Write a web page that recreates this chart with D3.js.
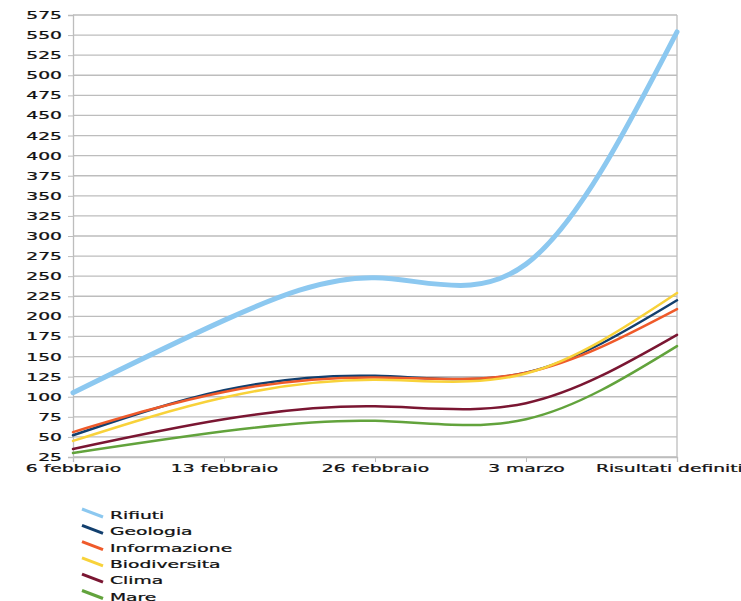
<!DOCTYPE html>
<html>
<head>
<meta charset="utf-8">
<script src="https://cdn.jsdelivr.net/npm/d3@7"></script>
<style>
  body { margin: 0; background: #fff; }
  text { font-family: "DejaVu Sans", sans-serif; fill: #111; stroke: #111; stroke-width: 0.25px; }
</style>
</head>
<body>
<svg id="chart" width="741" height="601"></svg>
<script>
const categories = ['6 febbraio', '13 febbraio', '26 febbraio', '3 marzo', 'Risultati definitivi'];
const seriesNames = ['Rifiuti', 'Geologia', 'Informazione', 'Biodiversita', 'Clima', 'Mare'];
const rifiuti = [105, 195, 248, 265, 554];
const geologia = [52, 108, 126, 130, 220];
const informazione = [56, 106, 124, 130, 209];
const biodiversita = [45, 99, 121, 129, 229];
const clima = [35, 72, 88, 92, 177];
const mare = [30, 57, 70, 72, 163];
const yTicks = d3.range(25, 576, 25);

const colors = ['#8cc8f0', '#123f6e', '#ef5a2a', '#f8d23a', '#7a1632', '#62a33c'];
const widths = [5, 2.5, 2.5, 2.5, 2.5, 2.5];
const allValues = [rifiuti, geologia, informazione, biodiversita, clima, mare];

const svg = d3.select('#chart');
const margin = { left: 73, top: 15, right: 64, bottom: 144 };
const w = 741 - margin.left - margin.right;
const h = 601 - margin.top - margin.bottom;
const stretch = 1.7; // the reference text is wide, so stretch it

const x = d3.scalePoint().domain(categories).range([0, w]);
const y = d3.scaleLinear().domain([25, 575]).range([h, 0]);

const g = svg.append('g').attr('transform', `translate(${margin.left},${margin.top})`);

// gridlines
g.append('g').selectAll('line')
  .data(yTicks)
  .enter().append('line')
  .attr('x1', 0).attr('x2', w)
  .attr('y1', d => y(d)).attr('y2', d => y(d))
  .attr('stroke', '#bdbdbd').attr('stroke-width', 1.3);

g.append('line')
  .attr('x1', w).attr('x2', w).attr('y1', 0).attr('y2', h)
  .attr('stroke', '#bdbdbd').attr('stroke-width', 1.3);

// y axis
const yAxis = g.append('g')
  .call(d3.axisLeft(y).tickValues(yTicks).tickSize(5).tickPadding(0));
yAxis.select('.domain').attr('stroke', '#bdbdbd').attr('stroke-width', 1.3);
yAxis.selectAll('line').attr('stroke', '#bdbdbd');
yAxis.selectAll('text')
  .attr('x', -6.5)
  .attr('transform', `scale(${stretch},1)`)
  .style('font-size', '11px')
  .style('font-family', '"DejaVu Sans", sans-serif')
  .attr('fill', '#111');

// x axis
const xAxis = g.append('g')
  .attr('transform', `translate(0,${h})`)
  .call(d3.axisBottom(x).tickSize(5).tickPadding(0));
xAxis.select('.domain').attr('stroke', '#bdbdbd').attr('stroke-width', 1.3);
xAxis.selectAll('line').attr('stroke', '#bdbdbd');
xAxis.selectAll('text')
  .attr('y', 7)
  .attr('transform', `scale(${stretch},1)`)
  .style('font-size', '11px')
  .style('font-family', '"DejaVu Sans", sans-serif')
  .attr('fill', '#111');

// lines
const line = d3.line()
  .x((d, i) => x(categories[i]))
  .y(d => y(d))
  .curve(d3.curveNatural);

allValues.forEach(function (vals, i) {
  g.append('path')
    .datum(vals)
    .attr('d', line)
    .attr('fill', 'none')
    .attr('stroke', colors[i])
    .attr('stroke-width', widths[i])
    .attr('stroke-linecap', 'round');
});

// legend
const legend = svg.append('g').attr('transform', 'translate(82,509)');
const rows = legend.selectAll('g')
  .data(seriesNames)
  .enter().append('g')
  .attr('transform', (d, i) => `translate(0,${i * 16.3})`);

rows.append('line')
  .attr('x1', 0).attr('y1', 0)
  .attr('x2', 21).attr('y2', 8)
  .attr('stroke', (d, i) => colors[i])
  .attr('stroke-width', 3);

rows.append('text')
  .attr('x', 28 / stretch)
  .attr('y', 10)
  .attr('transform', `scale(${stretch},1)`)
  .style('font-size', '11px')
  .text(d => d);
</script>
</body>
</html>
